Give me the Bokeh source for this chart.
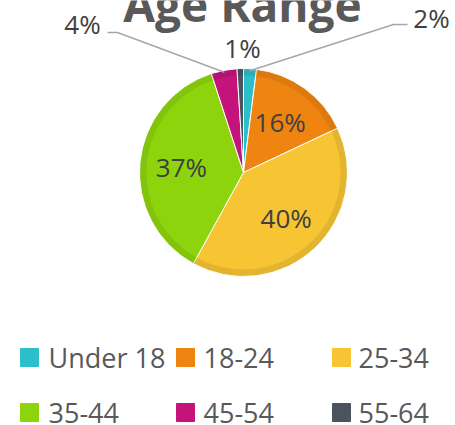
import numpy as np
from bokeh.plotting import figure
from bokeh.models import Range1d
from bokeh.core.properties import value
from bokeh.embed import file_html
from bokeh.resources import INLINE

title = "Age Range"
categories = ["Under 18", "18-24", "25-34", "35-44", "45-54", "55-64"]
shares = [2, 16, 40, 37, 4, 1]
colors = ["#2cbfc9", "#ef8510", "#f7c433", "#8ed40c", "#c5137c", "#4b545e"]

W, H = 455, 425


def py(y):
    # page-pixel y (from top) -> data y
    return H - y


p = figure(width=W, height=H, output_backend="svg", toolbar_location=None,
           x_range=Range1d(0, W), y_range=Range1d(0, H), min_border=0)
p.axis.visible = False
p.grid.visible = False
p.outline_line_color = None
p.background_fill_color = "white"
p.border_fill_color = "white"

# ---- pie ----
cx, cy, R = 243, py(172), 104
frac = np.array(shares, dtype=float) / sum(shares)
cum = np.concatenate([[0.0], np.cumsum(frac)])
th0 = cum[:-1] * 2 * np.pi
th1 = cum[1:] * 2 * np.pi
thm = (th0 + th1) / 2

p.wedge(x=cx, y=cy, radius=R, start_angle=list(np.pi / 2 - th0),
        end_angle=list(np.pi / 2 - th1), direction="clock",
        fill_color=colors, line_color="white", line_width=1)
# subtle bevel at rim
p.annular_wedge(x=cx, y=cy, inner_radius=R - 7, outer_radius=R - 0.5,
                start_angle=list(np.pi / 2 - th0), end_angle=list(np.pi / 2 - th1),
                direction="clock", fill_color="black", fill_alpha=0.08, line_color=None)

# ---- title (cut off at top) ----
p.text(x=[242], y=[py(3)], text=[title], text_font=value("Open Sans"),
       text_font_style="bold", text_font_size="46px", text_color="#595959",
       text_align="center", text_baseline="alphabetic")

# ---- inside labels ----
lab_r = 0.6 * R
ins = [i for i in range(len(shares)) if shares[i] >= 10]
p.text(x=[cx + lab_r * np.sin(thm[i]) for i in ins],
       y=[cy + lab_r * np.cos(thm[i]) for i in ins],
       text=[f"{shares[i]}%" for i in ins], text_font=value("Open Sans"),
       text_font_size="26px", text_color="#404040",
       text_align="center", text_baseline="middle")

# ---- outside labels for small slices ----
out_idx = [0, 4, 5]
out_pos = {0: (431, 17), 4: (82, 23), 5: (242, 47)}
p.text(x=[out_pos[i][0] for i in out_idx], y=[py(out_pos[i][1]) for i in out_idx],
       text=[f"{shares[i]}%" for i in out_idx], text_font=value("Open Sans"),
       text_font_size="26px", text_color="#404040",
       text_align="center", text_baseline="middle")

# leader lines
leaders = {0: [(407, 24), (393, 24)], 4: [(107, 32), (117, 32)]}
for i, pts in leaders.items():
    ex = cx + (R - 2) * np.sin(thm[i])
    ey = cy + (R - 2) * np.cos(thm[i])
    xs = [pt[0] for pt in pts] + [ex]
    ys = [py(pt[1]) for pt in pts] + [ey]
    p.line(xs, ys, line_color="#a6a6a6", line_width=1.5)

# ---- legend ----
col_mx = [29, 185, 341]
col_tx = [48, 203, 358]
row_y = [357, 412]
for k, (cat, col) in enumerate(zip(categories, colors)):
    r, c = divmod(k, 3)
    p.scatter([col_mx[c]], [py(row_y[r])], marker="square", size=18,
              fill_color=col, line_color=col, line_width=1)
    p.text([col_tx[c]], [py(row_y[r])], text=[cat], text_font=value("Open Sans"),
           text_font_size="27px", text_color="#595959",
           text_align="left", text_baseline="middle")

open("out.html", "w").write(file_html(p, INLINE))
